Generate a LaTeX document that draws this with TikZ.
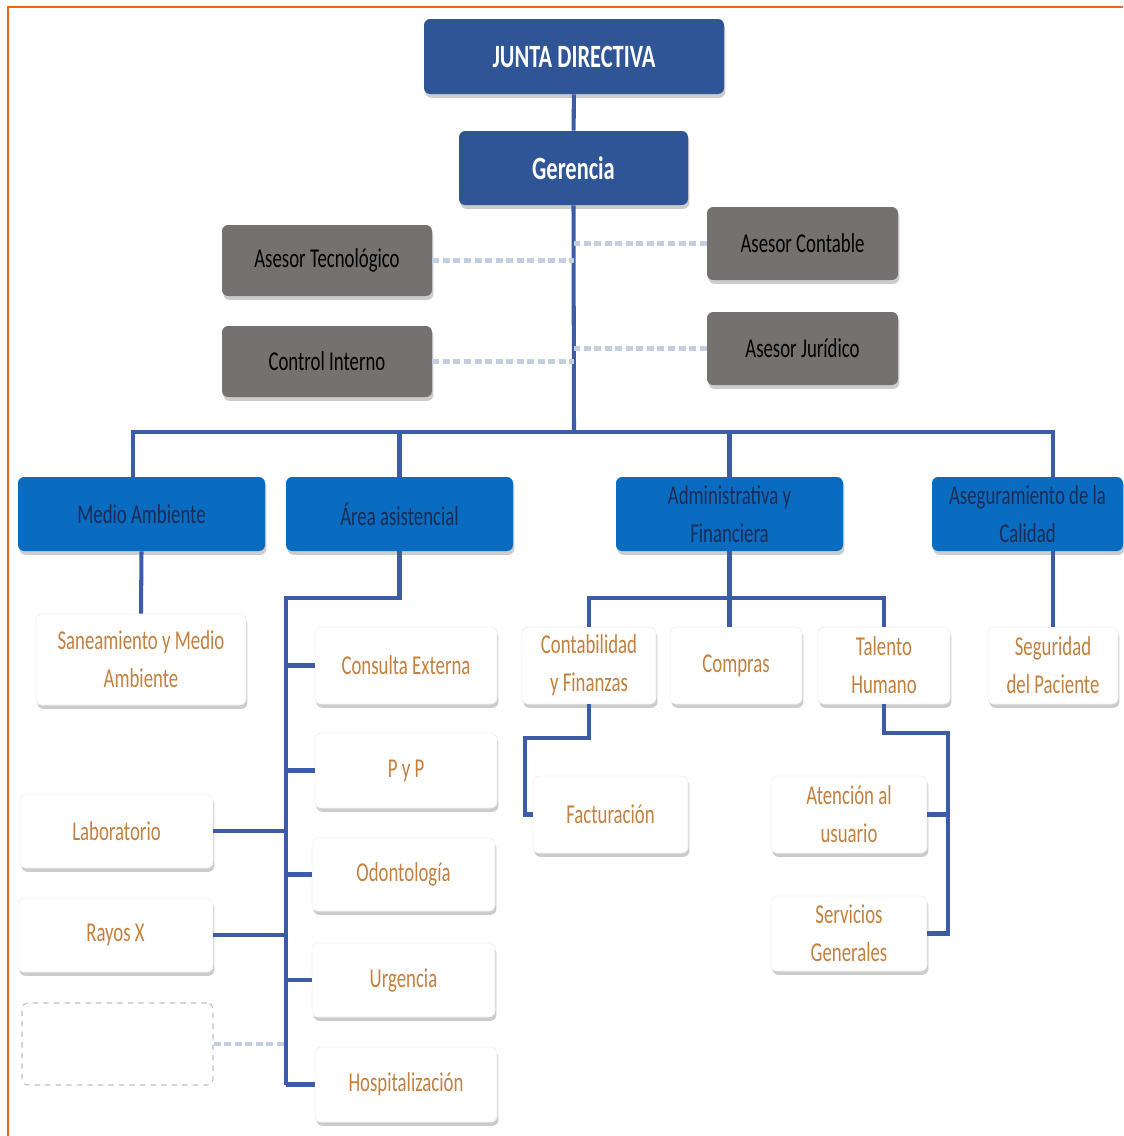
\documentclass[tikz,border=0pt]{standalone}
\usepackage{fontspec}
\setmainfont[FakeStretch=0.69]{Carlito}
\usepackage{tikz}
\usetikzlibrary{shadows}
\definecolor{darkblue}{HTML}{2F5597}
\definecolor{midblue}{HTML}{0A6CC0}
\definecolor{navytext}{HTML}{1B2C55}
\definecolor{grayfill}{HTML}{767171}
\definecolor{linkblue}{HTML}{3C5DA6}
\definecolor{dashblue}{HTML}{C3CEE0}
\definecolor{orangetext}{HTML}{C4803F}
\definecolor{frameorange}{HTML}{F0670F}

\begin{document}
\begin{tikzpicture}[x=0.02cm,y=-0.02cm,
    boxsize/.style 2 args={minimum width=#1*0.02cm,minimum height=#2*0.02cm},
    basebox/.style={rounded corners=3.5pt,inner sep=2pt,align=center,
        font=\fontsize{15.5}{21.5}\selectfont,
        drop shadow={shadow xshift=0.8pt,shadow yshift=-2.2pt,opacity=0.4}},
    topbox/.style={basebox,fill=darkblue,text=white,font=\fontsize{18.5}{21.5}\selectfont\bfseries},
    advbox/.style={basebox,fill=grayfill,text=black},
    areabox/.style={basebox,fill=midblue,text=navytext},
    unitbox/.style={basebox,fill=white,draw=black!6,text=orangetext},
    emptybox/.style={rounded corners=3.5pt,draw=black!25,dashed,line width=0.6pt,fill=white},
    link/.style={draw=linkblue,line width=2.3pt},
    dashlink/.style={draw=dashblue,line width=2.3pt,dash pattern=on 4pt off 2pt}]
    \useasboundingbox (0,0) rectangle (1123,1136);
    \draw[frameorange,line width=1.4pt] (8,1136) -- (8,7) -- (1123,7);

    % top of the chart
    \node[topbox,boxsize={300}{75}] (junta) at (574,56.5) {JUNTA DIRECTIVA};
    \node[topbox,boxsize={229}{74}] (gerencia) at (573.5,168) {Gerencia};

    \node[advbox,boxsize={210}{71}] (tecno) at (327,260.5) {Asesor Tecnológico};
    \node[advbox,boxsize={210}{71}] (control) at (327,361.5) {Control Interno};
    \node[advbox,boxsize={191}{73}] (contable) at (802.5,243.5) {Asesor Contable};
    \node[advbox,boxsize={191}{73}] (juridico) at (802.5,348.5) {Asesor Jurídico};

    % areas
    \node[areabox,boxsize={247}{74}] (medio) at (141.5,514) {Medio Ambiente};
    \node[areabox,boxsize={227}{74}] (asist) at (399.5,514) {Área asistencial};
    \node[areabox,boxsize={227}{74}] (admin) at (729.5,514) {Administrativa y\\Financiera};
    \node[areabox,boxsize={191}{74}] (calidad) at (1027.5,514) {Aseguramiento de la\\Calidad};

    % units
    \node[unitbox,boxsize={210}{91}] (sanea) at (141,659.5) {Saneamiento y Medio\\Ambiente};
    \node[unitbox,boxsize={182}{77}] (consulta) at (406,665.5) {Consulta Externa};
    \node[unitbox,boxsize={182}{75}] (pyp) at (406,770.5) {P y P};
    \node[unitbox,boxsize={183}{73}] (odonto) at (403.5,874.5) {Odontología};
    \node[unitbox,boxsize={183}{74}] (urgencia) at (403.5,980) {Urgencia};
    \node[unitbox,boxsize={182}{75}] (hosp) at (406,1084.5) {Hospitalización};
    \node[unitbox,boxsize={193}{74}] (lab) at (116.5,831) {Laboratorio};
    \node[unitbox,boxsize={195}{74}] (rayos) at (115.5,935) {Rayos X};
    \node[emptybox,boxsize={191}{82}] (vacio) at (117.5,1044) {};

    \node[unitbox,boxsize={134}{77}] (contab) at (589,665.5) {Contabilidad\\y Finanzas};
    \node[unitbox,boxsize={132}{77}] (compras) at (736,665.5) {Compras};
    \node[unitbox,boxsize={132}{77}] (talento) at (884,665.5) {Talento\\Humano};
    \node[unitbox,boxsize={130}{77}] (seguridad) at (1053,665.5) {Seguridad\\del Paciente};
    \node[unitbox,boxsize={155}{77}] (factura) at (610.5,814.5) {Facturación};
    \node[unitbox,boxsize={156}{77}] (atencion) at (849,814.5) {Atención al\\usuario};
    \node[unitbox,boxsize={156}{75}] (servicios) at (849,933.5) {Servicios\\Generales};

    \coordinate (bus) at (574,432);
    \coordinate (aspine) at (286,598);
    \coordinate (adbus) at (730,598);
    \coordinate (cbend) at (525,738);
    \coordinate (tbend) at (948,733);

    % connectors
    \draw[link] (junta) -- (gerencia);
    \draw[link] (gerencia.south) -- (bus);
    \draw[link] ([xshift=-0.17cm]medio.north) |- (bus) -| (seguridad.north |- calidad.north);
    \draw[link] (asist.north) -- (asist.north |- bus);
    \draw[link] (admin.north) -- (admin.north |- bus);
    \draw[dashlink] (tecno.east) -- (tecno.east -| bus);
    \draw[dashlink] (control.east) -- (control.east -| bus);
    \draw[dashlink] (contable.west) -- (contable.west -| bus);
    \draw[dashlink] (juridico.west) -- (juridico.west -| bus);

    \draw[link] (medio.south) -- (sanea.north);
    \draw[link] (seguridad.north |- calidad.south) -- (seguridad.north);

    \draw[link] (asist.south) |- (aspine) -- (aspine |- hosp);
    \foreach \u in {consulta,pyp,odonto,urgencia,hosp}
        \draw[link] (aspine |- \u) -- (\u.west);
    \foreach \u in {lab,rayos}
        \draw[link] (\u.east) -- (aspine |- \u);
    \draw[dashlink] (vacio.east) -- (aspine |- vacio);

    \draw[link] (contab.north) |- (adbus) -| (talento.north);
    \draw[link] (admin.south) -- (admin.south |- contab.north);
    \draw[link] (contab.south) |- (cbend) |- (factura.west);
    \draw[link] (talento.south) |- (tbend) |- (servicios.east);
    \draw[link] (atencion.east) -- (tbend |- atencion);
\end{tikzpicture}
\end{document}
